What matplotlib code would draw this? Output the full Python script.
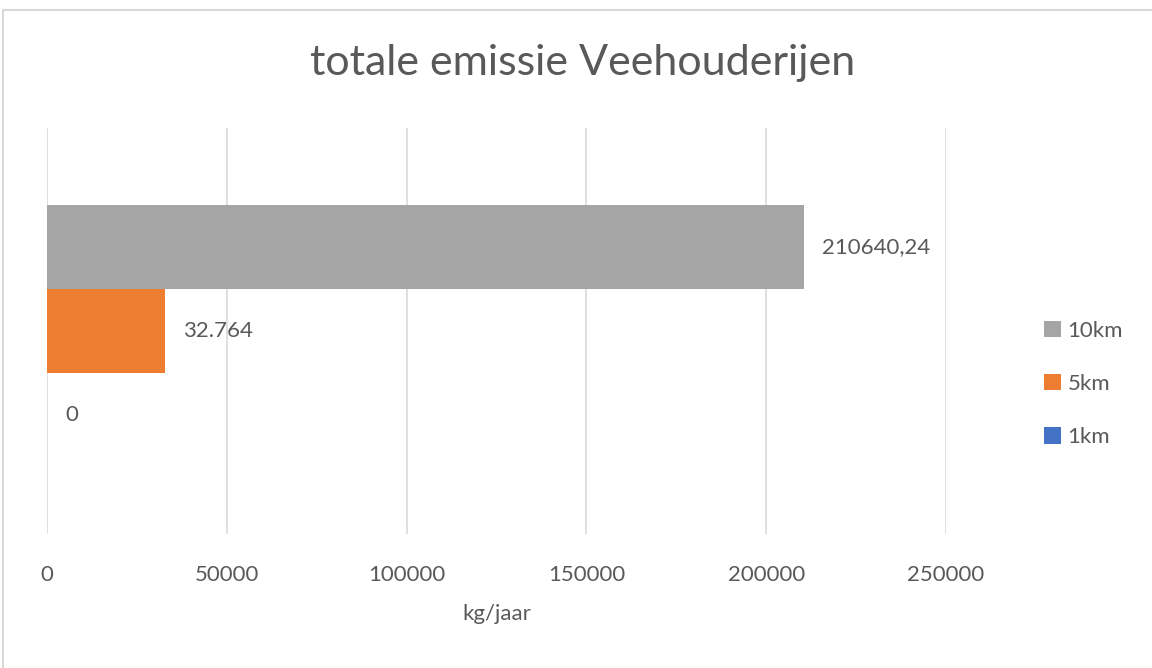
import matplotlib.pyplot as plt
from matplotlib.patches import Rectangle, Patch

plt.rcParams['font.family'] = ['Lato', 'DejaVu Sans']

# series, top to bottom as drawn
series = ['10km', '5km', '1km']
values = [210640.24, 32764, 0]
value_labels = ['210640,24', '32.764', '0']
colors = ['#a5a5a5', '#ed7d31', '#4472c4']
x_ticks = [0, 50000, 100000, 150000, 200000, 250000]

text_color = '#595959'
grid_color = '#d9d9d9'

fig = plt.figure(figsize=(11.52, 6.68), dpi=100)
W, H = 1152, 668

# light chart frame
fig.patches.append(Rectangle((3 / W, -0.01), 1.0, 1 - 10 / H + 0.01,
                             transform=fig.transFigure, fill=False,
                             edgecolor=grid_color, linewidth=1.5))

ax = fig.add_axes([47 / W, 1 - 534 / H, (946 - 47) / W, (534 - 128) / H])

# one category, three series stacked side by side
ypos = [1, 0, -1]
for y, v, c in zip(ypos, values, colors):
    ax.barh(y, v, height=1.0, color=c, zorder=3)

for y, v, lab in zip(ypos, values, value_labels):
    ax.text(v + 5000, y, lab, va='center', ha='left', fontsize=16,
            color=text_color, zorder=4)

ax.set_xlim(0, 250000)
half = 406 / 84 / 2
ax.set_ylim(-half, half)
ax.set_xticks(x_ticks)
ax.set_xticklabels([str(t) for t in x_ticks], fontsize=16, color=text_color)
ax.set_yticks([])
ax.tick_params(axis='x', length=0, pad=22)
ax.grid(axis='x', color=grid_color, linewidth=1.2, zorder=0)
for s in ax.spines.values():
    s.set_visible(False)

ax.set_xlabel('kg/jaar', fontsize=16, color=text_color, labelpad=14)

fig.text(583 / W, 1 - 63 / H, 'totale emissie Veehouderijen', ha='center',
         va='center', fontsize=31, color=text_color)

handles = [Patch(facecolor=c, edgecolor='none') for c in colors]
fig.legend(handles, series, loc='center left',
           bbox_to_anchor=(1024 / W, 1 - 384 / H), frameon=False,
           fontsize=16, labelcolor=text_color, handlelength=0.75,
           handleheight=0.75, handletextpad=0.3, labelspacing=1.5)

fig.savefig('out.png', dpi=100)
